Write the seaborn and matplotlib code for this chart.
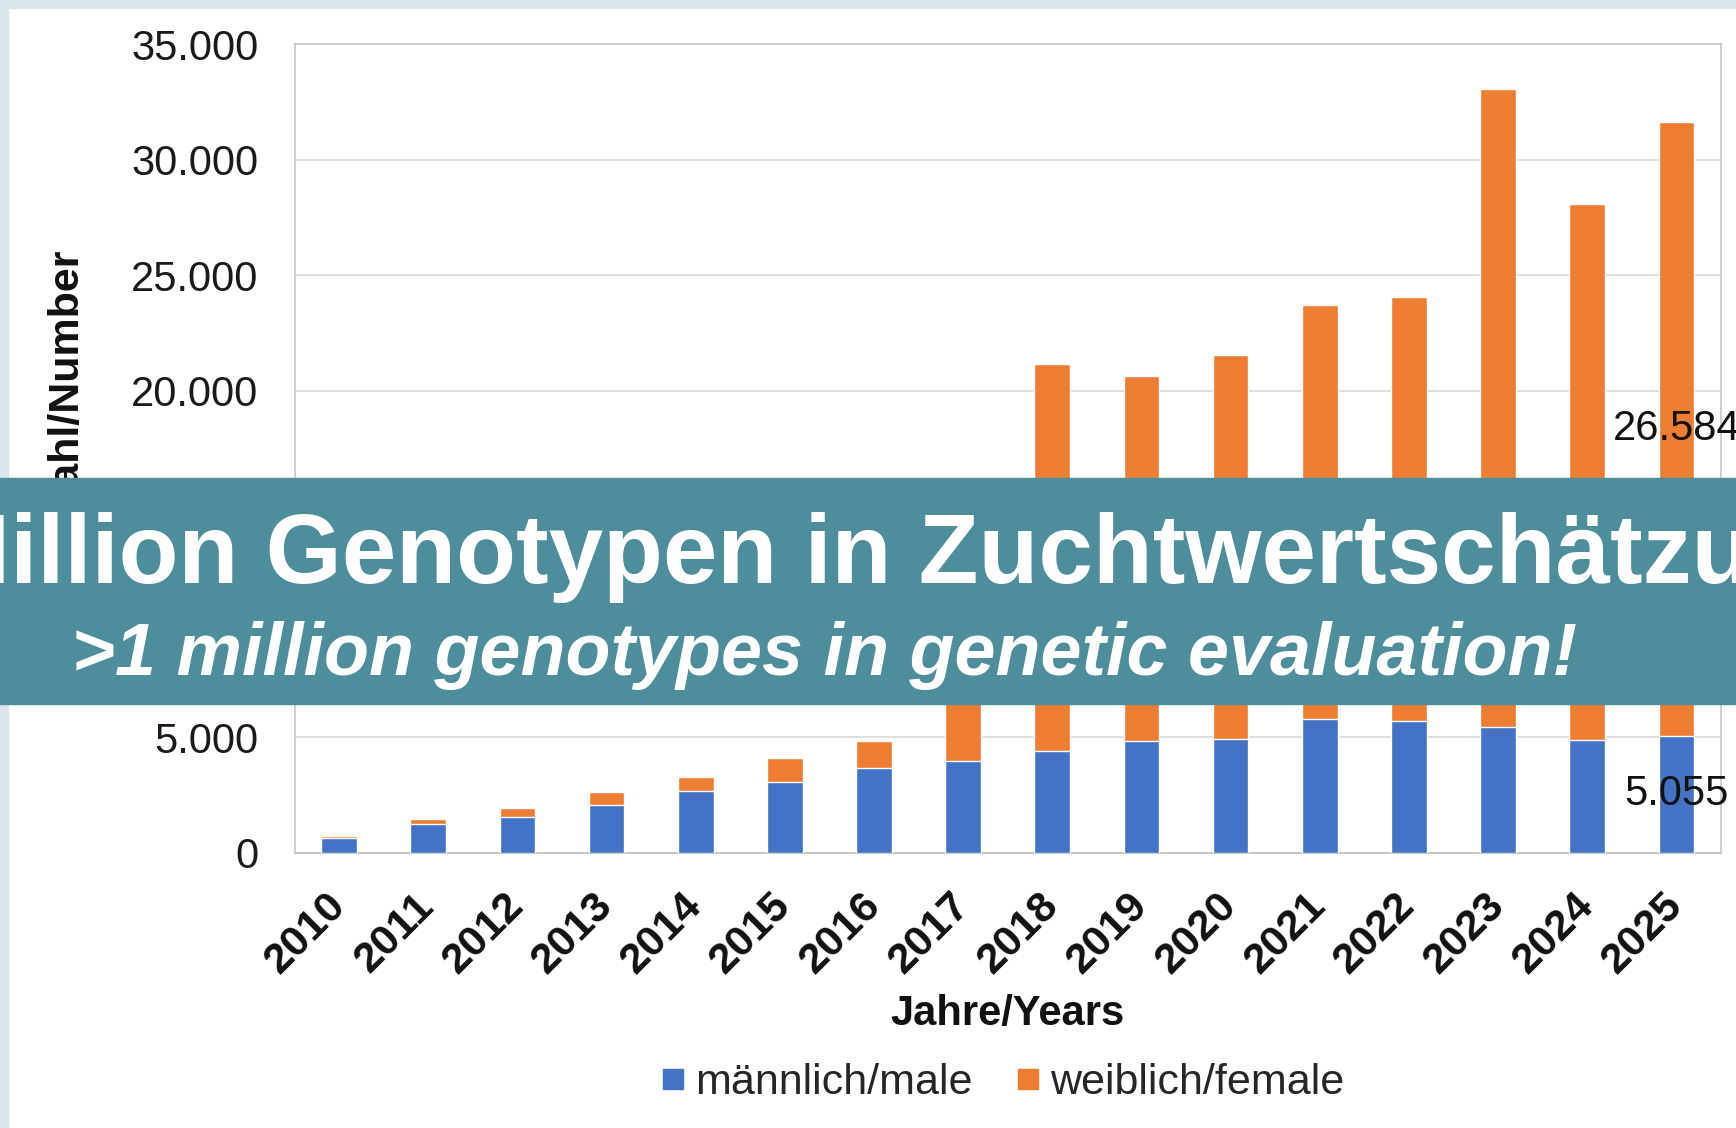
import numpy as np
import pandas as pd
import matplotlib
matplotlib.use("Agg")
import matplotlib.pyplot as plt
from matplotlib.patches import Rectangle
from matplotlib.lines import Line2D
from matplotlib.ticker import FuncFormatter
import seaborn as sns

# Data
years = ["2010", "2011", "2012", "2013", "2014", "2015", "2016", "2017",
         "2018", "2019", "2020", "2021", "2022", "2023", "2024", "2025"]
male = [620, 1240, 1560, 2070, 2690, 3050, 3680, 3970,
        4420, 4840, 4910, 5780, 5720, 5460, 4880, 5055]
female = [90, 210, 380, 550, 600, 1040, 1160, 7500,
          16720, 15780, 16620, 17910, 18350, 27600, 23180, 26584]
series_names = ["männlich/male", "weiblich/female"]
yticks = [0, 5000, 10000, 15000, 20000, 25000, 30000, 35000]

title_de = ">1 Million Genotypen in Zuchtwertschätzung!"
title_en = ">1 million genotypes in genetic evaluation!"

BLUE = "#4472C4"
ORANGE = "#ED7D31"
TEAL = "#4E8D9B"
FRAME = "#DAE6EC"

sns.set_theme(style="white")
plt.rcParams['font.family'] = ['Liberation Sans', 'DejaVu Sans']

df = pd.DataFrame({"year": years, "male": male, "female": female})
df["total"] = df["male"] + df["female"]

W, H = 1736, 1128
fig = plt.figure(figsize=(W / 100, H / 100), dpi=100, facecolor="white")

def fx(px):
    return px / W

def fy(py):
    return 1 - py / H

ax = fig.add_axes([fx(294.5), fy(852.7), fx(1721) - fx(294.5), fy(44) - fy(852.7)])

# stacked bars: totals (orange) behind, male (blue) in front
sns.barplot(data=df, x="year", y="total", color=ORANGE, width=0.4,
            saturation=1, ax=ax, zorder=3)
sns.barplot(data=df, x="year", y="male", color=BLUE, width=0.4,
            saturation=1, ax=ax, zorder=4)

ax.set_xlim(-0.5, len(years) - 0.5)
ax.set_ylim(0, 35000)
ax.set_yticks(yticks)
ax.yaxis.set_major_formatter(FuncFormatter(lambda v, p: f"{int(v):,}".replace(",", ".")))
ax.grid(axis="y", color="#D9D9D9", linewidth=1.2, zorder=0)
ax.set_axisbelow(True)
for s in ax.spines.values():
    s.set_color("#C8C8C8")
    s.set_linewidth(1.2)
ax.spines["bottom"].set_color("#BFBFBF")

ax.tick_params(axis="y", length=0, pad=26, labelsize=30, labelcolor="#1A1A1A")
ax.tick_params(axis="x", length=0, pad=34, labelsize=31, labelcolor="#111111")
for lbl in ax.get_xticklabels():
    lbl.set_rotation(45)
    lbl.set_ha("right")
    lbl.set_va("center")
    lbl.set_rotation_mode("anchor")
    lbl.set_fontweight("bold")
ax.set_xlabel("")
ax.set_ylabel("")

# data labels on the last bar
last = len(years) - 1
ax.text(last, male[last] + female[last] / 2, f"{female[last]:,}".replace(",", "."),
        ha="center", va="center", fontsize=30, color="#111111", zorder=6, clip_on=False)
ax.text(last, male[last] / 2, f"{male[last]:,}".replace(",", "."),
        ha="center", va="center", fontsize=30, color="#111111", zorder=6, clip_on=False)

# axis titles
fig.text(fx(1008), fy(1014), "Jahre/Years", ha="center", va="center",
         fontsize=30, fontweight="bold", color="#111111")
fig.text(fx(67), fy(380), "Zahl/Number", ha="center", va="center", rotation=90,
         fontsize=31, fontweight="bold", color="#111111", zorder=2)

# legend
handles = [Line2D([], [], marker="s", linestyle="", markersize=15, color=BLUE),
           Line2D([], [], marker="s", linestyle="", markersize=15, color=ORANGE)]
fig.legend(handles, series_names, loc="center", bbox_to_anchor=(fx(1000), fy(1083)),
           ncol=2, frameon=False, fontsize=31, handletextpad=0.1,
           columnspacing=0.9, handlelength=0.8)

# light frame on top and left edge
fig.patches.append(Rectangle((0, fy(8)), 1, 1 - fy(8), transform=fig.transFigure,
                             color=FRAME, zorder=1))
fig.patches.append(Rectangle((0, 0), fx(8), 1, transform=fig.transFigure,
                             color=FRAME, zorder=1))

# teal banner across the chart
fig.patches.append(Rectangle((0, fy(704)), 1, fy(478) - fy(704), transform=fig.transFigure,
                             color=TEAL, zorder=10))
fig.text(fx(-210), fy(583), title_de, ha="left", va="baseline", fontsize=70.5,
         fontweight="bold", color="white", zorder=11)
fig.text(fx(72), fy(675), title_en, ha="left", va="baseline", fontsize=53,
         fontweight="bold", fontstyle="italic", color="white", zorder=11)

fig.savefig("out.png", dpi=100, facecolor="white")
